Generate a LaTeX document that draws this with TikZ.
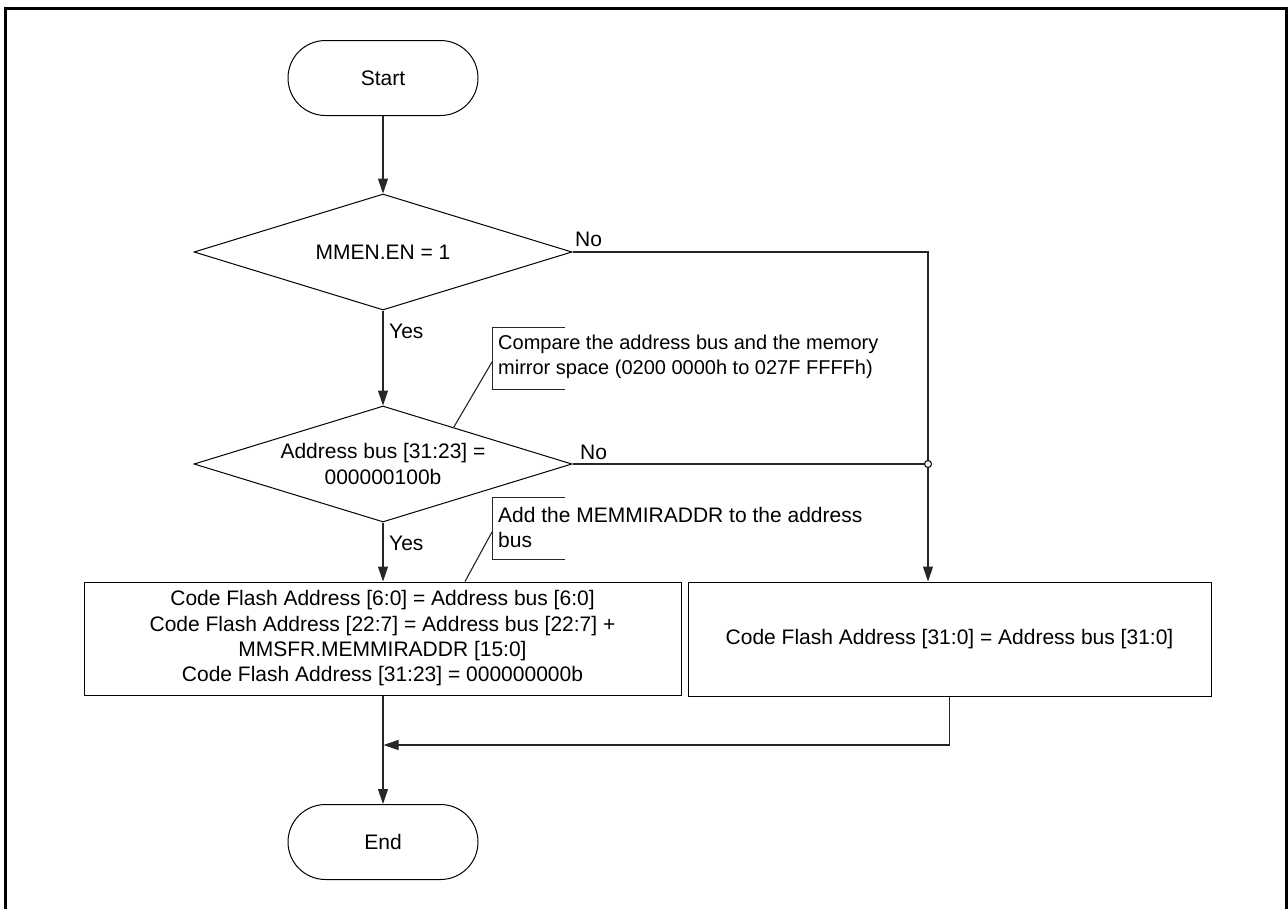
\documentclass[tikz,border=0pt]{standalone}
\usepackage{fontspec}
\setmainfont{Liberation Sans}
\usetikzlibrary{shapes.geometric,shapes.misc,arrows.meta,calc}
\begin{document}
\begin{tikzpicture}[x=1pt,y=-1pt,
  every node/.style={font=\fontsize{21}{25.3}\selectfont},
  term/.style={draw=black, line width=1pt, rounded rectangle, minimum width=190pt, minimum height=75pt, inner sep=0pt},
  decision/.style={draw=black, line width=1pt, diamond, shape aspect=3.26, minimum width=378pt, minimum height=116pt, inner sep=0pt, align=center},
  process/.style={draw=black, line width=1pt, rectangle, inner sep=0pt, align=center},
  conn/.style={draw=black!85, line width=1.1pt},
  arr/.style={conn, -{Triangle[length=15pt,width=10pt]}},
  lbl/.style={anchor=west, inner sep=0pt},
  note/.style={anchor=west, inner sep=0pt, align=left},
  bracket/.style={draw=black!85, line width=1pt},
]
\useasboundingbox (0,0) rectangle (1288,908);
\draw[line width=3pt] (5.5,912) -- (5.5,8.5) -- (1286.5,8.5) -- (1286.5,912);

\node[term] (start) at (383,78) {Start};
\node[decision] (d1) at (383,252) {MMEN.EN = 1};
\node[decision] (d2) at (383,464) {Address bus [31:23] =\\000000100b};
\node[process, minimum width=597pt, minimum height=113pt] (box1) at (382.5,638.5)
  {Code Flash Address [6:0] = Address bus [6:0]\\Code Flash Address [22:7] = Address bus [22:7] +\\MMSFR.MEMMIRADDR [15:0]\\Code Flash Address [31:23] = 000000000b};
\node[process, minimum width=523pt, minimum height=114pt] (box2) at (949.5,639)
  {Code Flash Address [31:0] = Address bus [31:0]};
\node[term] (end) at (383,842) {End};

\coordinate (j) at (928,464);
\coordinate (m) at (383,745);

\draw[arr] (start.south) -- (d1.north);
\draw[arr] (d1.south) -- (d2.north);
\draw[arr] (d2.south) -- (d2.south |- box1.north);
\draw[arr] (end.north |- box1.south) -- (end.north);
\draw[arr] (d1.east) -| (j |- box2.north);
\draw[conn] (d2.east) -- (j);
\draw[arr, shorten >=0.5pt] (box2.south) |- (m);
\node[circle, draw=black, fill=white, line width=1pt, minimum size=7pt, inner sep=0pt] (jc) at (j) {};

\node[lbl] (no1) at (575,239) {No};
\node[lbl] (no2) at (580,452) {No};
\node[lbl] (yes1) at (389,331) {Yes};
\node[lbl] (yes2) at (389,543) {Yes};

\draw[bracket] (565,327) -- (492,327) -- (492,389) -- (565,389);
\node[note, font=\fontsize{20}{25.3}\selectfont] (n1) at (498,357) {Compare the address bus and the memory\\mirror space (0200 0000h to 027F FFFFh)};
\coordinate (n1a) at (492,362);
\draw[conn] (n1a) -- ($(d2.north)!0.373!(d2.east)$);

\draw[bracket] (565,497) -- (492,497) -- (492,559) -- (565,559);
\node[note] (n2) at (498,527.5) {Add the MEMMIRADDR to the address\\bus};
\coordinate (n2a) at (492,532);
\draw[conn] (n2a) -- ($(box1.north)+(82.5,0)$);
\end{tikzpicture}
\end{document}
